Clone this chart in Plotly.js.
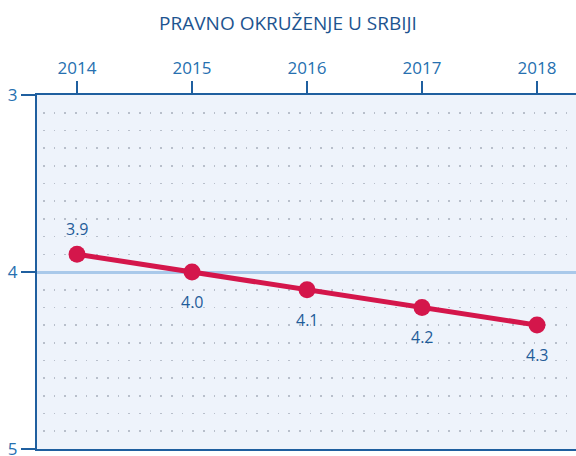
<!DOCTYPE html>
<html>
<head>
<meta charset="utf-8">
<script src="https://cdn.plot.ly/plotly-3.0.1.min.js"></script>
<style>html,body{margin:0;padding:0;background:#fff;}#chart{width:576px;height:456px;}</style>
</head>
<body>
<div id="chart"></div>
<script>
const years = [2014, 2015, 2016, 2017, 2018];
const values = [3.9, 4.0, 4.1, 4.2, 4.3];
const labels = ['3.9', '4.0', '4.1', '4.2', '4.3'];
const labelAbove = [true, false, false, false, false];
const yTicks = [3, 4, 5];
const titleText = 'PRAVNO OKRUŽENJE U SRBIJI';

const axisBlue = '#1f5f9f';
const textBlue = '#1f5c99';

const trace = {
  x: years,
  y: values,
  type: 'scatter',
  mode: 'lines+markers',
  line: {color: '#d4164b', width: 5},
  marker: {color: '#d4164b', size: 17},
  cliponaxis: false,
  hoverinfo: 'skip'
};

const annotations = years.map((yr, i) => ({
  x: yr,
  y: values[i],
  xref: 'x',
  yref: 'y',
  text: labels[i],
  showarrow: false,
  xanchor: 'center',
  yanchor: 'middle',
  yshift: labelAbove[i] ? 25 : -30,
  font: {family: 'Open Sans, sans-serif', size: 16, color: textBlue}
}));

const layout = {
  width: 576,
  height: 456,
  margin: {l: 37, r: 0, t: 95, b: 7},
  paper_bgcolor: '#ffffff',
  plot_bgcolor: '#eef3fb',
  showlegend: false,
  font: {family: 'Open Sans, sans-serif', color: textBlue},
  title: {
    text: titleText,
    font: {family: 'Open Sans, sans-serif', size: 19, color: '#1d5490'},
    x: 0.5, xanchor: 'center',
    y: 1 - 23 / 456, yanchor: 'middle', yref: 'container'
  },
  annotations: annotations,
  xaxis: {
    side: 'top',
    range: [2013.652, 2018.339],
    tickvals: years,
    ticktext: years.map(String),
    ticks: 'outside',
    ticklen: 12,
    tickwidth: 2,
    tickcolor: axisBlue,
    showline: true,
    linecolor: axisBlue,
    linewidth: 2,
    mirror: true,
    showgrid: false,
    zeroline: false,
    tickfont: {family: 'Open Sans, sans-serif', size: 17, color: '#2670b0'},
    fixedrange: true
  },
  yaxis: {
    range: [5, 3],
    tickvals: yTicks,
    ticktext: yTicks.map(String),
    ticks: 'outside',
    ticklen: 14,
    tickwidth: 2,
    tickcolor: axisBlue,
    showline: true,
    linecolor: axisBlue,
    linewidth: 2,
    showgrid: true,
    gridcolor: '#a9c9ea',
    gridwidth: 3,
    zeroline: false,
    ticklabeloverflow: 'allow',
    tickfont: {family: 'Open Sans, sans-serif', size: 17, color: '#2670b0'},
    minor: {
      dtick: 0.1,
      tick0: 3,
      showgrid: true,
      gridcolor: '#b8bfcb',
      gridwidth: 1.6,
      griddash: '0px,6px,1.6px,3.07px',
      ticks: '',
      ticklen: 0
    },
    fixedrange: true
  }
};

Plotly.newPlot('chart', [trace], layout, {displayModeBar: false, staticPlot: true});
</script>
</body>
</html>
